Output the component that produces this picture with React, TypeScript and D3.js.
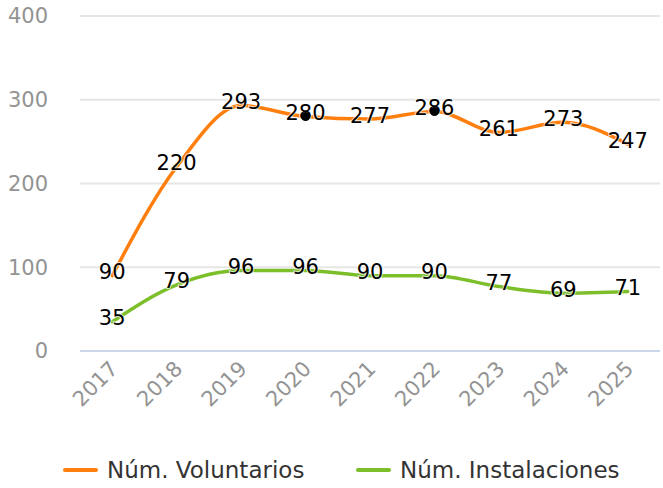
import React, { useEffect, useRef } from 'react';
import * as d3 from 'd3';

const years = ['2017', '2018', '2019', '2020', '2021', '2022', '2023', '2024', '2025'];
const voluntarios = [90, 220, 293, 280, 277, 286, 261, 273, 247];
const instalaciones = [35, 79, 96, 96, 90, 90, 77, 69, 71];
const yTicks = [0, 100, 200, 300, 400];
const markedYears = ['2020', '2022'];

const seriesNames = ['Núm. Voluntarios', 'Núm. Instalaciones'];
const seriesColors = ['#ff7f0e', '#7cbf2a'];

const W = 663;
const H = 488;
const FONT = '"DejaVu Sans", sans-serif';

export default function App() {
  const ref = useRef<SVGSVGElement>(null);

  useEffect(() => {
    const svg = d3.select(ref.current);
    svg.selectAll('*').remove();

    const left = 80;
    const right = 660;
    const top = 16;
    const bottom = 351;

    const x = d3.scalePoint<string>().domain(years).range([left, right]).padding(0.5);
    const y = d3.scaleLinear().domain([0, 400]).range([bottom, top]);

    // grid
    svg.append('g')
      .selectAll('line')
      .data(yTicks)
      .enter()
      .append('line')
      .attr('x1', left)
      .attr('x2', right)
      .attr('y1', (d) => y(d))
      .attr('y2', (d) => y(d))
      .attr('stroke', (d) => (d === 0 ? '#ccd6eb' : '#e6e6e6'))
      .attr('stroke-width', 2);

    svg.append('g')
      .selectAll('text')
      .data(yTicks)
      .enter()
      .append('text')
      .attr('x', 48)
      .attr('y', (d) => y(d))
      .attr('dy', '0.35em')
      .attr('text-anchor', 'end')
      .style('font-family', FONT)
      .style('font-size', '21px')
      .attr('fill', '#939393')
      .text((d) => d);

    svg.append('g')
      .selectAll('text')
      .data(years)
      .enter()
      .append('text')
      .attr('transform', (d) => 'translate(' + ((x(d) as number) + 7) + ',' + 370 + ') rotate(-45)')
      .attr('text-anchor', 'end')
      .style('font-family', FONT)
      .style('font-size', '21px')
      .attr('fill', '#939393')
      .text((d) => d);

    const line = d3.line<number>()
      .x((d, i) => x(years[i]) as number)
      .y((d) => y(d))
      .curve(d3.curveMonotoneX);

    [voluntarios, instalaciones].forEach((vals, si) => {
      svg.append('path')
        .attr('d', line(vals))
        .attr('fill', 'none')
        .attr('stroke', seriesColors[si])
        .attr('stroke-width', 3.5)
        .attr('stroke-linecap', 'round');
    });

    [voluntarios, instalaciones].forEach((vals) => {
      svg.append('g')
        .selectAll('text')
        .data(vals)
        .enter()
        .append('text')
        .attr('x', (d, i) => x(years[i]) as number)
        .attr('y', (d) => y(d) - 4)
        .attr('dy', '0.36em')
        .attr('text-anchor', 'middle')
        .style('font-family', FONT)
        .style('font-size', '21px')
        .attr('fill', '#000')
        .attr('stroke', '#fff')
        .attr('stroke-width', 2)
        .attr('stroke-opacity', 0.7)
        .attr('paint-order', 'stroke')
        .text((d) => d);
    });

    svg.append('g')
      .selectAll('circle')
      .data(markedYears)
      .enter()
      .append('circle')
      .attr('cx', (d) => x(d) as number)
      .attr('cy', (d) => y(voluntarios[years.indexOf(d)]))
      .attr('r', 4.5)
      .attr('fill', '#000');

    // legend
    const legendX = [65, 358];
    const lg = svg.append('g');
    seriesNames.forEach((name, i) => {
      lg.append('line')
        .attr('x1', legendX[i])
        .attr('x2', legendX[i] + 31)
        .attr('y1', 470)
        .attr('y2', 470)
        .attr('stroke', seriesColors[i])
        .attr('stroke-width', 4)
        .attr('stroke-linecap', 'round');
      lg.append('text')
        .attr('x', legendX[i] + 42)
        .attr('y', 470)
        .attr('dy', '0.36em')
        .style('font-family', FONT)
        .style('font-size', '23px')
        .attr('fill', '#333')
        .text(name);
    });
  }, []);

  return (
    <div style={{ position: 'absolute', left: 0, top: 0 }}>
      <svg ref={ref} width={W} height={H} />
    </div>
  );
}
